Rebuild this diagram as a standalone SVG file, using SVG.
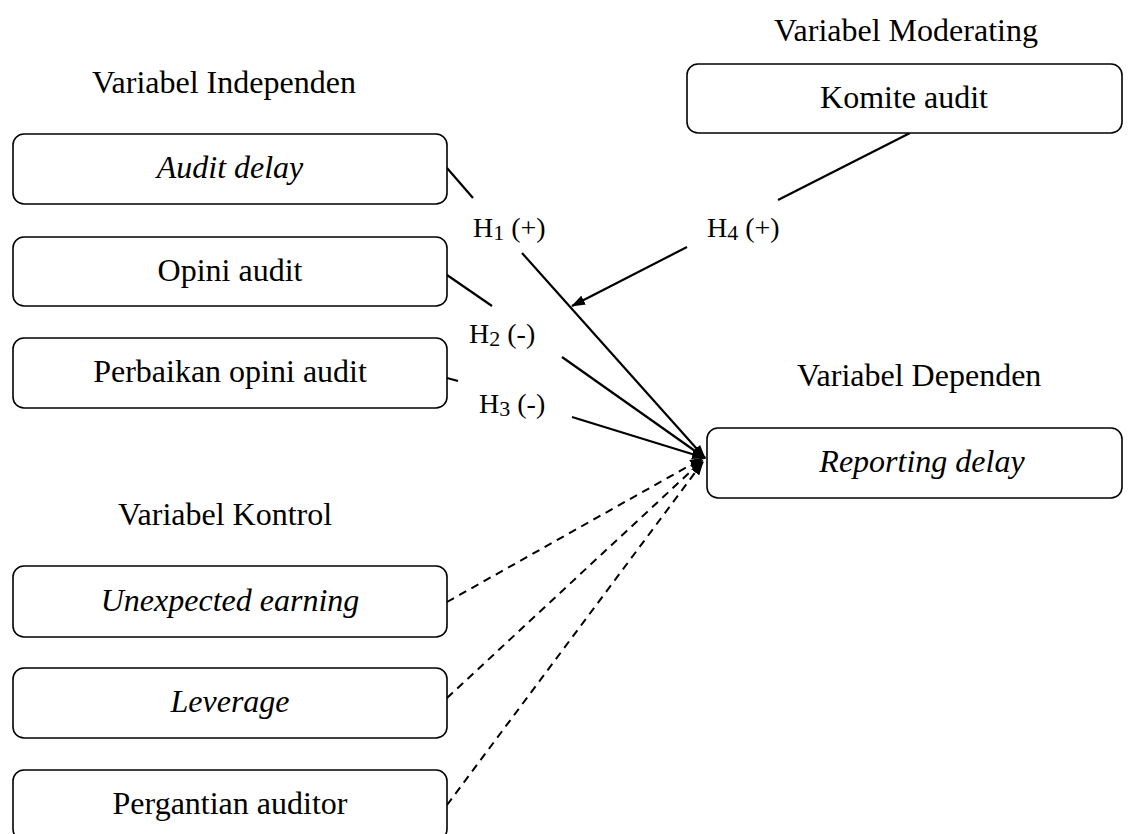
<svg xmlns="http://www.w3.org/2000/svg" width="1130" height="834" viewBox="0 0 1130 834">
<style>
  text { font-family: "Liberation Serif", "Times New Roman", serif; fill: #000; }
  .t { font-size: 32px; }
  .c { font-size: 32px; text-anchor: middle; }
  .i { font-style: italic; }
  .h { font-size: 28px; }
  .sub { font-size: 22px; }
  .box { fill: #fff; stroke: #000; stroke-width: 1.6; }
  .ln { stroke: #000; stroke-width: 2.2; fill: none; }
  .dash { stroke: #000; stroke-width: 2; fill: none; stroke-dasharray: 8 6; }
</style>
<defs>
  <marker id="ah" markerWidth="14" markerHeight="10" refX="13" refY="5" orient="auto" markerUnits="userSpaceOnUse">
    <path d="M0,0 L14,5 L0,10 z" fill="#000"/>
  </marker>
</defs>
<rect width="1130" height="834" fill="#fff"/>

<text class="t" x="92" y="93">Variabel Independen</text>
<text class="t" x="774" y="41">Variabel Moderating</text>
<text class="t" x="797" y="386">Variabel Dependen</text>
<text class="t" x="118" y="525">Variabel Kontrol</text>

<g id="connectors">
  <line class="ln" x1="447" y1="168" x2="473" y2="198"/>
  <line class="ln" x1="522" y1="253" x2="705" y2="458" marker-end="url(#ah)"/>
  <line class="ln" x1="447" y1="275" x2="492" y2="306"/>
  <line class="ln" x1="562" y1="357" x2="705" y2="458" marker-end="url(#ah)"/>
  <line class="ln" x1="447" y1="378" x2="458" y2="381"/>
  <line class="ln" x1="572" y1="417" x2="705" y2="458" marker-end="url(#ah)"/>
  <line class="ln" x1="910" y1="133" x2="778" y2="200"/>
  <line class="ln" x1="687" y1="247" x2="572" y2="306" marker-end="url(#ah)"/>
  <line class="dash" x1="447" y1="602" x2="703" y2="458" marker-end="url(#ah)"/>
  <line class="dash" x1="447" y1="698" x2="703" y2="460" marker-end="url(#ah)"/>
  <line class="dash" x1="447" y1="805" x2="703" y2="462" marker-end="url(#ah)"/>
  <text class="h" x="473" y="237">H<tspan class="sub" dy="3">1</tspan><tspan dy="-3"> (+)</tspan></text>
  <text class="h" x="469" y="343">H<tspan class="sub" dy="3">2</tspan><tspan dy="-3"> (-)</tspan></text>
  <text class="h" x="479" y="413">H<tspan class="sub" dy="3">3</tspan><tspan dy="-3"> (-)</tspan></text>
  <text class="h" x="707" y="237">H<tspan class="sub" dy="3">4</tspan><tspan dy="-3"> (+)</tspan></text>
</g>

<g id="audit-delay">
  <rect class="box" x="13" y="134" width="434" height="70" rx="11"/>
  <text class="c i" x="230" y="178">Audit delay</text>
</g>
<g id="opini-audit">
  <rect class="box" x="13" y="237" width="434" height="69" rx="11"/>
  <text class="c" x="230" y="281">Opini audit</text>
</g>
<g id="perbaikan-opini-audit">
  <rect class="box" x="13" y="338" width="434" height="70" rx="11"/>
  <text class="c" x="230" y="382">Perbaikan opini audit</text>
</g>
<g id="komite-audit">
  <rect class="box" x="687" y="64" width="435" height="69" rx="11"/>
  <text class="c" x="904" y="108">Komite audit</text>
</g>
<g id="reporting-delay">
  <rect class="box" x="707" y="428" width="415" height="70" rx="11"/>
  <text class="c i" x="922" y="472">Reporting delay</text>
</g>
<g id="unexpected-earning">
  <rect class="box" x="13" y="566" width="434" height="71" rx="11"/>
  <text class="c i" x="230" y="611">Unexpected earning</text>
</g>
<g id="leverage">
  <rect class="box" x="13" y="668" width="434" height="70" rx="11"/>
  <text class="c i" x="230" y="712">Leverage</text>
</g>
<g id="pergantian-auditor">
  <rect class="box" x="13" y="770" width="434" height="70" rx="11"/>
  <text class="c" x="230" y="814">Pergantian auditor</text>
</g>
</svg>
